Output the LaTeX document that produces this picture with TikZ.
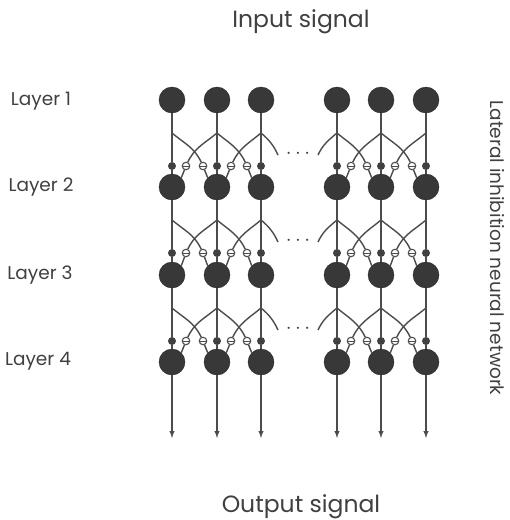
\documentclass[tikz,border=0pt]{standalone}
\usepackage{fontspec}
\setmainfont{Poppins}
\usetikzlibrary{arrows,positioning,calc}

\begin{document}
\begin{tikzpicture}[
    x=1pt, y=-1pt,
    neuron/.style={circle, draw=black!85, fill=black!78, minimum size=26pt, inner sep=0pt},
    excite/.style={circle, fill=black!75, minimum size=8pt, inner sep=0pt},
    inhib/.style={circle, draw=black!70, fill=white, line width=1.1pt, minimum size=7.5pt, inner sep=0pt,
        path picture={\draw[black!70, line width=0.9pt] (path picture bounding box.west) -- (path picture bounding box.east);}},
    wire/.style={draw=black!70, line width=1.4pt},
    layertext/.style={font=\fontsize{18.5}{22}\selectfont, text=black!75},
    sigtext/.style={font=\fontsize{23.5}{27}\selectfont, text=black!75}
]
    \useasboundingbox (0,0) rectangle (510,520);

    % neurons
    \foreach \r/\y in {1/100, 2/187, 3/275, 4/362}
        \foreach \c/\x in {1/172, 2/217, 3/261, 4/337, 5/381, 6/426}
            \node[neuron] (n\r\c) at (\x,\y) {};

    % excitatory links between layers
    \foreach \r/\s/\y in {1/2/100, 2/3/187, 3/4/275} {
        \foreach \c/\x in {1/172, 2/217, 3/261, 4/337, 5/381, 6/426} {
            \coordinate (b\r\c) at (\x,\y+33);
            \node[excite] (e\r\c) at (\x,\y+66) {};
            \draw[wire] (n\r\c) -- (e\r\c) -- (n\s\c);
        }
        % lateral inhibition
        \foreach \a/\b/\xa/\xb in {1/2/172/217, 2/3/217/261, 4/5/337/381, 5/6/381/426} {
            \node[inhib] (ir\r\b) at (\xb-14,\y+66) {};
            \node[inhib] (il\r\a) at (\xa+14,\y+66) {};
            \draw[wire] (b\r\a) to[out=-40, in=115] (ir\r\b);
            \draw[wire] (b\r\b) to[out=-140, in=65] (il\r\a);
            \draw[wire] (ir\r\b) -- (n\s\b.135);
            \draw[wire] (il\r\a) -- (n\s\a.45);
        }
        \coordinate (dr\r) at (278,\y+55);
        \coordinate (dl\r) at (318,\y+55);
        \draw[wire] (b\r3) to[out=-40, in=115] (dr\r);
        \draw[wire] (b\r4) to[out=-140, in=65] (dl\r);
        \node[font=\fontsize{22}{22}\selectfont, text=black!75] (dots\r) at (298,\y+54) {$\cdots$};
    }

    % outputs
    \foreach \c/\x in {1/172, 2/217, 3/261, 4/337, 5/381, 6/426} {
        \coordinate (o\c) at (\x,438);
        \draw[wire, -latex] (n4\c) -- (o\c);
    }

    \node[sigtext] (input) at (301,22) {Input signal};
    \node[sigtext] (output) at (301,507) {Output signal};
    \node[layertext] (l1) at (41,101) {Layer 1};
    \node[layertext] (l2) at (41,187) {Layer 2};
    \node[layertext] (l3) at (40,275) {Layer 3};
    \node[layertext] (l4) at (38,361) {Layer 4};
    \node[layertext, rotate=-90] (side) at (497,248) {Lateral inhibition neural network};
\end{tikzpicture}
\end{document}
